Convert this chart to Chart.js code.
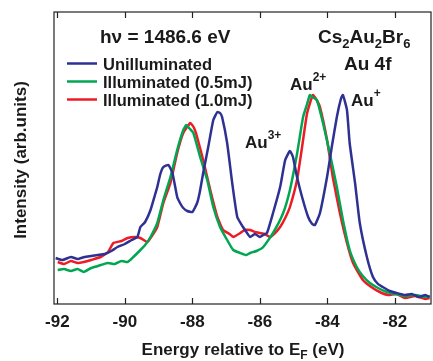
<!DOCTYPE html>
<html>
<head>
<meta charset="utf-8">
<script src="https://cdn.jsdelivr.net/npm/chart.js@4.4.0/dist/chart.umd.min.js"></script>
<style>
  html, body { margin: 0; padding: 0; background: #fff; }
  #wrap { width: 433px; height: 361px; position: relative; }
</style>
</head>
<body>
<div id="wrap"><canvas id="c" width="433" height="361"></canvas></div>
<script>
// ---- data (energy in eV, intensity in arb. units) ----
const xTicks = [-92, -90, -88, -86, -84, -82];

const unillumE = [-92.05, -91.85, -91.6, -91.4, -91.2, -91.0, -90.8, -90.6, -90.4, -90.22, -90.0, -89.8, -89.63, -89.54, -89.4, -89.24, -89.1, -89.04, -88.95, -88.86, -88.71, -88.59, -88.45, -88.35, -88.27, -88.15, -88.0, -87.86, -87.78, -87.68, -87.53, -87.38, -87.26, -87.18, -87.12, -86.97, -86.82, -86.67, -86.5, -86.4, -86.29, -86.15, -86.0, -85.9, -85.79, -85.61, -85.4, -85.25, -85.11, -85.02, -84.9, -84.75, -84.57, -84.45, -84.37, -84.22, -84.01, -83.87, -83.72, -83.6, -83.54, -83.42, -83.34, -83.18, -83.04, -82.83, -82.65, -82.5, -82.36, -82.15, -81.95, -81.7, -81.5, -81.3, -81.1, -80.97];
const unillumI = [46, 44, 47, 45, 47, 48, 49, 50, 53, 57, 60, 64, 67, 77, 82, 94, 110, 117, 130, 137, 139, 131, 107, 100, 96, 93, 92, 101, 112, 131, 157, 184, 192, 191, 187, 161, 121, 87, 77, 72, 67, 70, 67, 69, 71, 91, 117, 144, 153, 147, 127, 107, 87, 80, 79, 91, 127, 157, 187, 205, 209, 194, 161, 121, 81, 47, 27, 20, 17, 13, 11, 9, 10, 7, 9, 7];

const ill05E = [-91.99, -91.8, -91.6, -91.4, -91.22, -91.0, -90.8, -90.51, -90.3, -90.1, -89.92, -89.75, -89.54, -89.4, -89.24, -89.04, -88.86, -88.65, -88.45, -88.27, -88.18, -88.1, -87.97, -87.77, -87.56, -87.38, -87.18, -86.97, -86.79, -86.58, -86.4, -86.29, -86.1, -85.9, -85.61, -85.31, -85.11, -84.9, -84.72, -84.6, -84.52, -84.45, -84.31, -84.13, -83.93, -83.72, -83.54, -83.34, -83.13, -82.95, -82.74, -82.5, -82.24, -82.0, -81.7, -81.4, -81.1, -80.97];
const ill05I = [34, 35, 33, 35, 32, 36, 38, 41, 40, 43, 42, 47, 54, 59, 67, 81, 104, 127, 154, 174, 179, 176, 171, 147, 124, 97, 77, 64, 54, 51, 49, 51, 53, 57, 71, 91, 114, 150, 187, 200, 209, 207, 204, 181, 151, 117, 84, 54, 37, 28, 21, 16, 12, 10, 8, 9, 7, 8];

const ill10E = [-91.99, -91.8, -91.6, -91.4, -91.22, -91.0, -90.72, -90.5, -90.34, -90.1, -89.92, -89.7, -89.54, -89.33, -89.2, -89.04, -88.86, -88.65, -88.45, -88.27, -88.06, -87.95, -87.86, -87.68, -87.47, -87.26, -87.09, -86.9, -86.79, -86.58, -86.45, -86.29, -86.15, -86.0, -85.85, -85.70, -85.55, -85.40, -85.25, -85.11, -84.90, -84.75, -84.60, -84.43, -84.32, -84.22, -84.01, -83.84, -83.63, -83.42, -83.24, -82.95, -82.7, -82.45, -82.2, -81.95, -81.7, -81.4, -81.1, -80.97];
const ill10I = [42, 40, 43, 41, 42, 44, 47, 52, 61, 63, 66, 67, 66, 62, 68, 77, 101, 121, 151, 171, 181, 176, 167, 144, 114, 87, 74, 70, 67, 71, 74, 74, 72, 71, 70, 67, 71, 77, 86, 97, 124, 157, 191, 209, 204, 197, 164, 127, 91, 61, 41, 24, 17, 12, 9, 10, 6, 8, 5, 6];

const seriesNames = ['Unilluminated', 'Illuminated (0.5mJ)', 'Illuminated (1.0mJ)'];
const seriesColors = ['#2e3192', '#00a651', '#ed1c24'];

function pts(E, I) { return E.map((e, i) => ({ x: e, y: I[i] })); }

const FONT = '"Liberation Sans", Arial, Helvetica, sans-serif';

const decor = {
  id: 'decor',
  afterDraw(chart) {
    const ctx = chart.ctx;
    const a = chart.chartArea;
    const xs = chart.scales.x;
    ctx.save();
    // frame
    ctx.strokeStyle = '#222';
    ctx.lineWidth = 1.2;
    ctx.strokeRect(a.left, a.top, a.right - a.left, a.bottom - a.top);
    // inward ticks top and bottom
    ctx.beginPath();
    xTicks.forEach(t => {
      const px = Math.round(xs.getPixelForValue(t)) + 0.5;
      ctx.moveTo(px, a.bottom); ctx.lineTo(px, a.bottom - 6);
      ctx.moveTo(px, a.top); ctx.lineTo(px, a.top + 6);
    });
    ctx.stroke();

    ctx.fillStyle = '#1a1a1a';
    ctx.textBaseline = 'alphabetic';
    ctx.textAlign = 'left';
    // h nu label
    ctx.font = 'bold 19px ' + FONT;
    ctx.fillText('h\u03bd = 1486.6 eV', 100, 43);
    // Cs2Au2Br6
    let x = 318;
    const parts = [['Cs', 0], ['2', 1], ['Au', 0], ['2', 1], ['Br', 0], ['6', 1]];
    parts.forEach(([t, sub]) => {
      ctx.font = sub ? 'bold 13px ' + FONT : 'bold 19px ' + FONT;
      ctx.fillText(t, x, sub ? 48 : 43);
      x += ctx.measureText(t).width;
    });
    ctx.font = 'bold 19px ' + FONT;
    ctx.fillText('Au 4f', 344, 70);

    // legend
    chart.data.datasets.forEach((ds, i) => {
      const y = [63.5, 81.5, 99.5][i];
      ctx.strokeStyle = ds.borderColor;
      ctx.lineWidth = 2.5;
      ctx.beginPath(); ctx.moveTo(67, y); ctx.lineTo(97, y); ctx.stroke();
      ctx.font = 'bold 16.5px ' + FONT;
      ctx.fillStyle = '#1a1a1a';
      ctx.fillText(ds.label, 103, y + 6);
    });

    // peak labels
    function ion(base, sup, bx, by) {
      ctx.font = 'bold 17px ' + FONT;
      ctx.fillText(base, bx, by);
      const w = ctx.measureText(base).width;
      ctx.font = 'bold 12px ' + FONT;
      ctx.fillText(sup, bx + w, by - 9);
    }
    ion('Au', '2+', 290, 90);
    ion('Au', '+', 351, 106);
    ion('Au', '3+', 245, 148);

    // x axis title with subscript
    const t1 = 'Energy relative to E';
    const t2 = 'F';
    const t3 = ' (eV)';
    ctx.font = 'bold 17px ' + FONT;
    const w1 = ctx.measureText(t1).width;
    const w3 = ctx.measureText(t3).width;
    ctx.font = 'bold 12px ' + FONT;
    const w2 = ctx.measureText(t2).width;
    const total = w1 + w2 + w3;
    let sx = 243 - total / 2;
    ctx.font = 'bold 17px ' + FONT;
    ctx.fillText(t1, sx, 355); sx += w1;
    ctx.font = 'bold 12px ' + FONT;
    ctx.fillText(t2, sx, 359); sx += w2;
    ctx.font = 'bold 17px ' + FONT;
    ctx.fillText(t3, sx, 355);

    // y axis title
    ctx.save();
    ctx.translate(26, 160);
    ctx.rotate(-Math.PI / 2);
    ctx.textAlign = 'center';
    ctx.font = 'bold 17px ' + FONT;
    ctx.fillText('Intensity (arb.units)', 0, 0);
    ctx.restore();

    ctx.restore();
  }
};

new Chart(document.getElementById('c'), {
  type: 'line',
  data: {
    datasets: [
      { label: seriesNames[0], data: pts(unillumE, unillumI), borderColor: seriesColors[0] },
      { label: seriesNames[1], data: pts(ill05E, ill05I), borderColor: seriesColors[1] },
      { label: seriesNames[2], data: pts(ill10E, ill10I), borderColor: seriesColors[2] }
    ].map(d => Object.assign(d, { borderWidth: 2.5, pointRadius: 0, tension: 0.15, fill: false }))
  },
  options: {
    responsive: false,
    animation: false,
    devicePixelRatio: 1,
    layout: { padding: { left: 54, right: 2, top: 12, bottom: 0 } },
    plugins: { legend: { display: false }, tooltip: { enabled: false } },
    scales: {
      x: {
        type: 'linear',
        min: -92.1,
        max: -80.93,
        afterBuildTicks: s => { s.ticks = xTicks.map(v => ({ value: v })); },
        afterFit: s => { s.height = 57; },
        grid: { display: false, drawTicks: false },
        border: { display: false },
        ticks: {
          padding: 8,
          color: '#1a1a1a',
          font: { family: FONT, size: 17, weight: 'bold' },
          callback: v => String(v)
        }
      },
      y: {
        display: false,
        min: 0,
        max: 292
      }
    }
  },
  plugins: [decor]
});
</script>
</body>
</html>
